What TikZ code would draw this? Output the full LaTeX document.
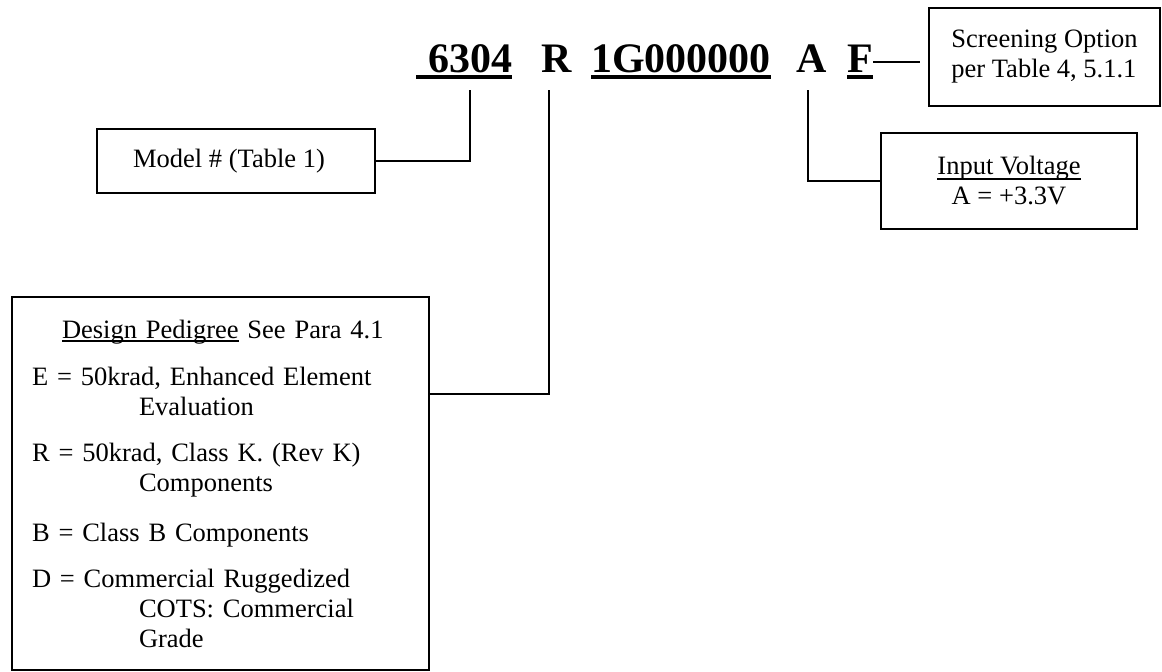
\documentclass[tikz,border=0pt]{standalone}
\usepackage{fontspec}
\setmainfont{Liberation Serif}
\usetikzlibrary{positioning}
\newcommand{\bodysize}{\fontsize{26.5}{30}\selectfont}
\newcommand{\codesize}{\fontsize{42}{48}\selectfont\bfseries}
% underline: depth, thickness, overhang on the left, text
\newcommand{\undl}[4]{\leavevmode\setbox0=\hbox{#4}\rlap{\hspace*{-#3}\rule[-#1]{\dimexpr\wd0+#3\relax}{#2}}\box0\relax}

\tikzset{
  box/.style={draw, line width=2pt, inner sep=0pt, font=\bodysize},
  code/.style={inner sep=0pt, anchor=base west, font=\codesize},
  lead/.style={line width=2pt},
}

\begin{document}
\begin{tikzpicture}[x=1pt, y=-1pt]
    \useasboundingbox (0,0) rectangle (1162,672);
    % part number
    \node[code] (num) at (428,72) {\undl{7pt}{4pt}{12pt}{6304}};
    \node[code] (grade) at (541,72) {R};
    \node[code] (opt) at (591,72) {\undl{7pt}{4pt}{0pt}{1G000000}};
    \node[code] (volt) at (796,72) {A};
    \node[code] (scr) at (847,72) {\undl{7pt}{4pt}{0pt}{F}};
    % boxes
    \node[box, minimum width=278pt, minimum height=64pt] (model) at (236,161) {\hspace*{-14pt}Model \# (Table 1)};
    \node[box, minimum width=256pt, minimum height=96pt, align=center] (input) at (1009,181)
        {\undl{5pt}{1.5pt}{0pt}{Input Voltage}\\A = +3.3V};
    \node[box, minimum width=231pt, minimum height=98pt, align=left] (screen) at (1044.5,57)
        {Screening Option\\per Table 4, 5.1.1};
    \node[box, minimum width=417pt, minimum height=373pt, text width=377pt, align=left] (pedigree) at (220.5,483.5)
        {\hspace*{30pt}\undl{4pt}{2pt}{0pt}{Design Pedigree} See Para 4.1\\[17pt]
         E = 50krad, Enhanced Element\\
         \hspace*{107pt}Evaluation\\[16pt]
         R = 50krad, Class K. (Rev K)\\
         \hspace*{107pt}Components\\[20pt]
         B = Class B Components\\[16pt]
         D = Commercial Ruggedized\\
         \hspace*{107pt}COTS: Commercial\\
         \hspace*{107pt}Grade};
    % leads
    \draw[lead, shorten >=11pt] (model.east) -| (num.south);
    \draw[lead, shorten >=18pt] ([yshift=89.5pt]pedigree.east) -| ([xshift=-7pt]grade.south);
    \draw[lead, shorten >=18pt] (input.west) -| ([xshift=-3pt]volt.south);
    \draw[lead, shorten >=8pt] (scr.east) -- (scr.east -| screen.west);
\end{tikzpicture}
\end{document}
